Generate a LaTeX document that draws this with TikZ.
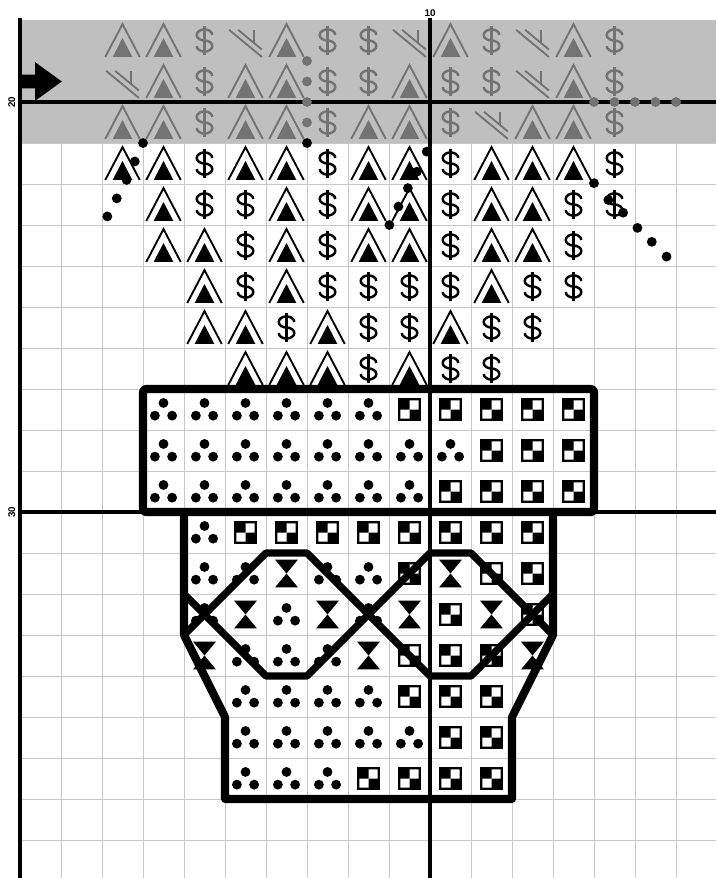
\documentclass[tikz,border=0pt]{standalone}
\usepackage{fontspec}
\setmainfont{Liberation Sans}

\begin{document}
\begin{tikzpicture}[x=0.5cm, y=0.5cm,
    gridfine/.style={draw=black!22, line width=0.35pt, xstep=0.5cm, ystep=0.5cm},
    gridbold/.style={draw=black, line width=1.4pt},
    potline/.style={draw=black, line width=2.8pt, line join=round},
    bandline/.style={draw=black, line width=2.5pt, line join=round},
    axislabel/.style={font=\fontsize{3.4}{4}\selectfont\bfseries, inner sep=0.5pt},
    pics/tent/.style={code={
      \draw[line width=0.65pt] (-0.42,-0.4) -- (0,0.4) -- (0.42,-0.4);
      \fill (-0.24,-0.4) -- (0,0.06) -- (0.24,-0.4) -- cycle;}},
    pics/dollar/.style={code={
      \draw[line width=0.85pt] (0.19,0.135) arc[start angle=0, end angle=270, x radius=0.19, y radius=0.135]
        arc[start angle=90, end angle=-180, x radius=0.19, y radius=0.135];
      \draw[line width=0.85pt] (0,0.35) -- (0,-0.35);}},
    pics/wedge/.style={code={
      \draw[line width=0.65pt] (-0.4,0.26) -- (0.4,-0.4);
      \draw[line width=0.65pt] (-0.18,0.26) -- (0.4,-0.22);
      \draw[line width=0.65pt] (0.2,0.26) -- (0.2,-0.06);}},
    pics/trio/.style={code={
      \fill (0,0.16) circle[radius=0.12] (-0.21,-0.15) circle[radius=0.12] (0.21,-0.15) circle[radius=0.12];}},
    pics/check/.style={code={
      \fill (-0.28,-0.28) rectangle (0.28,0.28);
      \fill[white] (0,0) rectangle (0.22,0.22) (-0.22,-0.22) rectangle (0,0);}},
    pics/glass/.style={code={
      \fill (-0.28,0.34) -- (0.28,0.34) -- (0,0) -- cycle;
      \fill (-0.28,-0.34) -- (0.28,-0.34) -- (0,0) -- cycle;}}]
  \useasboundingbox (-0.488,-17.512) rectangle (16.976,-38.927);
  \fill[white] (-0.488,-17.512) rectangle (16.976,-38.927);

  % grid and shaded band
  \draw[gridfine] (0,-18) grid (16.976,-38.927);
  \fill[black!25] (0,-18) rectangle (16.976,-21);
  \draw[gridbold] (0,-17.95) -- (0,-38.927);
  \draw[gridbold] (10,-17.95) -- (10,-38.927);
  \draw[gridbold] (0,-20) -- (16.976,-20);
  \draw[gridbold] (0,-30) -- (16.976,-30);

  % symbols, shaded rows
  \begin{scope}[black!55]
    \foreach \r/\c/\seq in {
        18/2/{tent,tent,dollar,wedge,tent,dollar,dollar,wedge,tent,dollar,wedge,tent,dollar},
        19/2/{wedge,tent,dollar,tent,tent,dollar,dollar,tent,dollar,dollar,wedge,tent,dollar},
        20/2/{tent,tent,dollar,tent,tent,dollar,tent,tent,dollar,wedge,tent,tent,dollar}}
      \foreach \s [count=\i from \c] in \seq
        \pic at (\i+0.5,-\r-0.5) {\s};
  \end{scope}

  % symbols, plant and pot
  \foreach \r/\c/\seq in {
      21/2/{tent,tent,dollar,tent,tent,dollar,tent,tent,dollar,tent,tent,tent,dollar},
      22/3/{tent,dollar,dollar,tent,dollar,tent,tent,dollar,tent,tent,dollar,dollar},
      23/3/{tent,tent,dollar,tent,dollar,tent,tent,dollar,tent,tent,dollar},
      24/4/{tent,dollar,tent,dollar,dollar,dollar,dollar,tent,dollar,dollar},
      25/4/{tent,tent,dollar,tent,dollar,dollar,tent,dollar,dollar},
      26/5/{tent,tent,tent,dollar,tent,dollar,dollar},
      27/3/{trio,trio,trio,trio,trio,trio,check,check,check,check,check},
      28/3/{trio,trio,trio,trio,trio,trio,trio,trio,check,check,check},
      29/3/{trio,trio,trio,trio,trio,trio,trio,check,check,check,check},
      30/4/{trio,check,check,check,check,check,check,check,check},
      31/4/{trio,trio,glass,trio,trio,check,glass,check,check},
      32/4/{trio,glass,trio,glass,trio,glass,check,glass,check},
      33/4/{glass,trio,trio,trio,glass,check,check,check,glass},
      34/5/{trio,trio,trio,trio,check,check,check},
      35/5/{trio,trio,trio,trio,trio,check,check},
      36/5/{trio,trio,trio,check,check,check,check}}
    \foreach \s [count=\i from \c] in \seq
      \pic at (\i+0.5,-\r-0.5) {\s};

  % pot outline and band
  \draw[potline, rounded corners=1pt] (3,-27) rectangle (14,-30);
  \draw[potline] (4,-30) -- (4,-33) -- (5,-35) -- (5,-37) -- (12,-37) -- (12,-35) -- (13,-33) -- (13,-30);
  \draw[bandline] (4,-33) -- (6,-31) -- (7,-31) -- (10,-34) -- (11,-34) -- (13,-32);
  \draw[bandline] (4,-32) -- (6,-34) -- (7,-34) -- (10,-31) -- (11,-31) -- (13,-33);

  % knots
  \foreach \p in {(7,-19),(7,-19.5),(7,-20),(7,-20.5),(14,-20),(14.5,-20),(15,-20),(15.5,-20),(16,-20)}
    \fill[black!55] \p circle[radius=0.12];
  \foreach \p in {(7,-21),(3,-21),(2.8,-21.45),(2.6,-21.9),(2.36,-22.35),(2.13,-22.79),
      (9.92,-21.21),(9.68,-21.7),(9.46,-22.1),(9.23,-22.55),(9.01,-23),
      (14,-21.98),(14.35,-22.39),(14.71,-22.7),(15.06,-23.07),(15.41,-23.41),(15.77,-23.77)}
    \fill \p circle[radius=0.12];

  % centre arrow
  \fill (0,-19.33) -- (0.37,-19.33) -- (0.37,-19.03) -- (1.02,-19.5) -- (0.37,-19.97)
    -- (0.37,-19.67) -- (0,-19.67) -- cycle;

  % axis numbers
  \node[axislabel] (lab10) at (10,-17.83) {10};
  \node[axislabel, rotate=90] (lab20) at (-0.2,-20) {20};
  \node[axislabel, rotate=90] (lab30) at (-0.2,-30) {30};
\end{tikzpicture}
\end{document}
